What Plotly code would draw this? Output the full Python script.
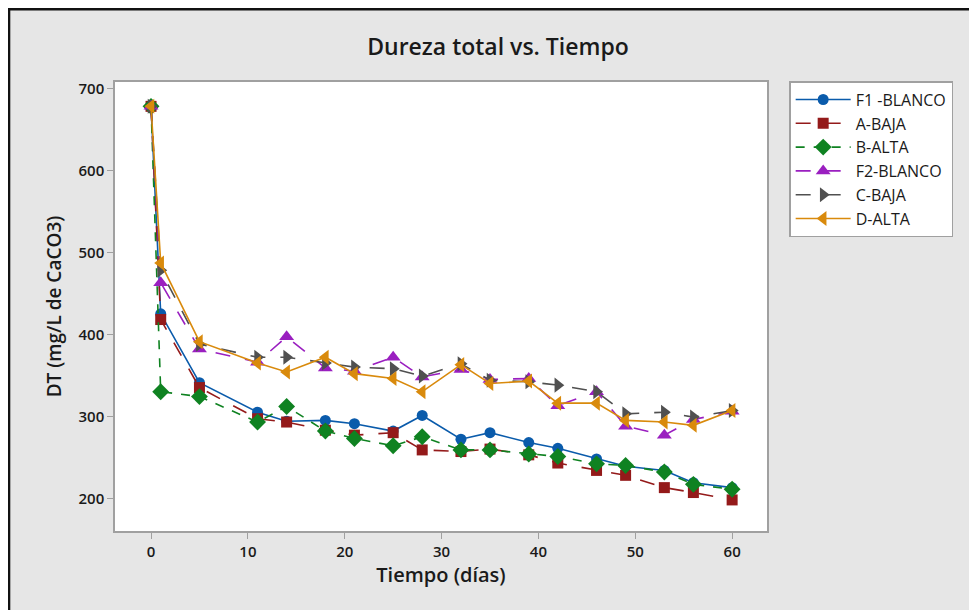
import plotly.graph_objects as go

tiempo = [0, 1, 5, 11, 14, 18, 21, 25, 28, 32, 35, 39, 42, 46, 49, 53, 56, 60]

f1_blanco = [678, 425, 341, 305, 294, 295, 291, 282, 301, 272, 280, 268, 261, 248, 239, 234, 219, 213]
a_baja    = [678, 418, 335, 297, 293, 283, 277, 280, 259, 257, 260, 253, 243, 234, 228, 213, 207, 198]
b_alta    = [678, 330, 324, 293, 312, 282, 273, 264, 275, 259, 259, 254, 251, 242, 240, 232, 217, 211]
f2_blanco = [678, 463, 382, 366, 397, 359, 355, 372, 348, 357, 345, 346, 313, 330, 288, 277, 296, 306]
c_baja    = [678, 478, 388, 372, 372, 365, 360, 358, 349, 364, 344, 342, 338, 330, 303, 305, 299, 307]
d_alta    = [678, 487, 391, 365, 354, 372, 352, 346, 330, 363, 340, 343, 316, 316, 295, 293, 289, 307]

series_names = ["F1 -BLANCO", "A-BAJA", "B-ALTA", "F2-BLANCO", "C-BAJA", "D-ALTA"]
series_vals = [f1_blanco, a_baja, b_alta, f2_blanco, c_baja, d_alta]
colors = ["#0a5bab", "#941a1a", "#0f8221", "#9a1fc0", "#505050", "#d98a0c"]
dashes = ["solid", "longdash", "dash", "longdash", "longdash", "solid"]
symbols = ["circle", "square", "diamond", "triangle-up", "triangle-right", "triangle-left"]
sizes = [11, 11, 13, 13, 13, 13]

fig = go.Figure()
for name, vals, c, d, s, sz in zip(series_names, series_vals, colors, dashes, symbols, sizes):
    fig.add_trace(go.Scatter(
        x=tiempo, y=vals, name=name, mode="lines+markers",
        line=dict(color=c, width=1.6, dash=d),
        marker=dict(color=c, symbol=s, size=sz),
    ))

font_family = "Open Sans, Noto Sans, DejaVu Sans, sans-serif"
W, H = 969, 602  # page body has an 8px margin

fig.update_layout(
    width=W, height=H,
    paper_bgcolor="#e6e6e6",
    plot_bgcolor="#ffffff",
    margin=dict(l=107, r=210, t=74, b=79),
    font=dict(family=font_family, color="#1a1a1a", size=14),
    title=dict(text="Dureza total vs. Tiempo", x=490 / W, xref="container",
               y=1 - 39 / H, yanchor="middle", yref="container",
               font=dict(size=23, color="#1a1a1a", family=font_family, weight=600)),
    legend=dict(x=1.034, y=1.002, xanchor="left", yanchor="top",
                bgcolor="#ffffff", bordercolor="#a0a0a0", borderwidth=1.5,
                font=dict(size=16, color="#1a1a1a", weight=500), itemwidth=55,
                tracegroupgap=0),
    showlegend=True,
)

fig.update_xaxes(
    range=[-3.72, 63.6], tickvals=[0, 10, 20, 30, 40, 50, 60],
    showgrid=False, zeroline=False,
    showline=True, linecolor="#a0a0a0", linewidth=1.5, mirror=True,
    ticks="outside", ticklen=6, tickcolor="#a0a0a0",
    tickfont=dict(size=15, color="#1a1a1a", weight=600),
    title=dict(text="Tiempo (días)", font=dict(size=20, color="#1a1a1a", weight=600), standoff=8),
)
fig.update_yaxes(
    range=[160.1, 707.7], tickvals=[200, 300, 400, 500, 600, 700],
    showgrid=False, zeroline=False,
    showline=True, linecolor="#a0a0a0", linewidth=1.5, mirror=True,
    ticks="outside", ticklen=6, tickcolor="#a0a0a0",
    tickfont=dict(size=15, color="#1a1a1a", weight=600),
    title=dict(text="DT (mg/L de CaCO3)", font=dict(size=19, color="#1a1a1a", weight=600), standoff=12),
)

# outer frame lines (left and top black edges of the original picture)
fig.add_shape(type="line", xref="paper", yref="paper", x0=-0.1625, x1=-0.1625,
              y0=-0.2, y1=1.2, line=dict(color="#111111", width=2.5))
fig.add_shape(type="line", xref="paper", yref="paper", x0=-0.17, x1=1.4,
              y0=1.162, y1=1.162, line=dict(color="#111111", width=2.5))

fig.write_html("out.html")
